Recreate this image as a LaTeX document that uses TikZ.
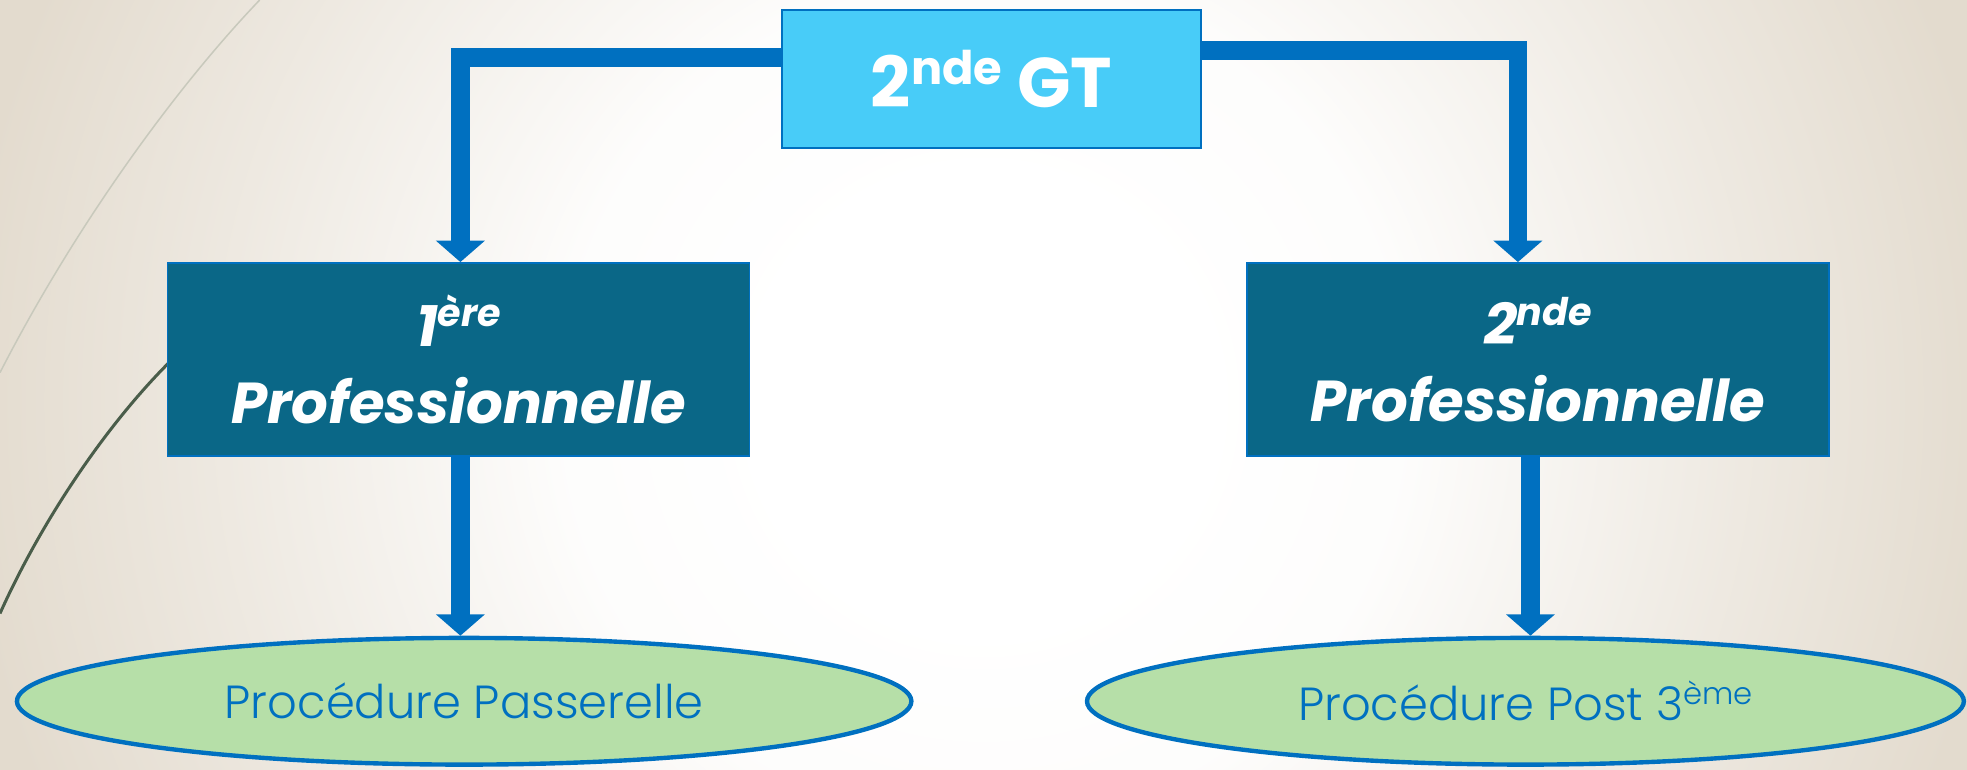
\documentclass[tikz,border=0pt]{standalone}
\usepackage{fontspec}
\setmainfont{Poppins}
\newfontfamily\thinfont{Poppins}[UprightFont={* Light}]
\usepackage{xcolor}
\usepackage{graphicx}
\usepackage{tikz}
\usetikzlibrary{calc,arrows.meta,shapes.geometric}
\definecolor{bgout}{HTML}{E3DBCE}
\definecolor{flow}{HTML}{0070C0}
\definecolor{sky}{HTML}{48CCF8}
\definecolor{petrol}{HTML}{0A6787}
\definecolor{leaf}{HTML}{B6DFA8}
\definecolor{swirl}{HTML}{C8C9BC}
\definecolor{swirldark}{HTML}{4A5D4A}
\newcommand{\expo}[1]{\raisebox{.34em}{\scalebox{.66}{#1}}}
\pgfdeclareradialshading{paper}{\pgfpoint{0bp}{0bp}}{%
  color(0bp)=(white); color(5bp)=(white); color(10bp)=(white!93!bgout);
  color(18bp)=(bgout!62!white); color(24bp)=(bgout); color(50bp)=(bgout)}
\tikzset{
  link/.style={draw=flow, line width=15pt, line join=miter, -{Triangle[width=38pt,length=17pt]}},
  topbox/.style={draw=flow, line width=1.6pt, fill=sky, text=white,
    minimum width=334pt, minimum height=110pt, font=\fontsize{56}{60}\selectfont\bfseries},
  levelbox/.style={draw=flow, line width=1.2pt, fill=petrol, text=white, align=center,
    minimum width=464pt, minimum height=154pt, font=\fontsize{46}{61}\selectfont\bfseries\itshape},
  proc/.style={ellipse, draw=flow, line width=3.5pt, fill=leaf, inner sep=0pt, minimum height=101pt},
  proclbl/.style={text=flow, font=\fontsize{37}{40}\selectfont\thinfont}
}

\begin{document}
\begin{tikzpicture}[x=1pt,y=-1pt]
  \useasboundingbox (0,0) rectangle (1568,613.8);
  \begin{scope}
    \clip (0,0) rectangle (1568,613.8);
    \shade[shading=paper] (-66,-530) rectangle (1634,1170);
  \end{scope}

  % theme swirls
  \draw[swirl, line width=1.2pt] (207,0) .. controls (140,70) and (60,180) .. (0,297);
  \draw[swirldark, line width=2.4pt] (180,250) .. controls (110,300) and (40,400) .. (0,489);

  \node[topbox] (gt) at (790.5,63) {2\expo{nde} GT};
  \node[levelbox] (pro1) at (365.5,286.5) {1\expo{ère}\\Professionnelle};
  \node[levelbox] (pro2) at (1226,286.5) {2\expo{nde}\\Professionnelle};

  \node[proc, minimum width=713pt] (pass) at (370,559) {};
  \node[proc, minimum width=699pt] (post) at (1216,559) {};
  \node[proclbl] (passlbl) at (pass.center) {Procédure Passerelle};
  \node[proclbl] (postlbl) at (post.center) {Procédure Post 3\expo{ème}};

  \draw[link] ([yshift=17pt]gt.west) -| ([xshift=1.5pt]pro1.north);
  \draw[link] ([yshift=22.5pt]gt.east) -| ([xshift=-16pt]pro2.north);
  \draw[link] ([xshift=1.5pt]pro1.south) -- ([xshift=1.5pt]pro1.south |- pass.north);
  \draw[link] ([xshift=-6pt]pro2.south) -- ([xshift=-6pt]pro2.south |- post.north);
\end{tikzpicture}
\end{document}
